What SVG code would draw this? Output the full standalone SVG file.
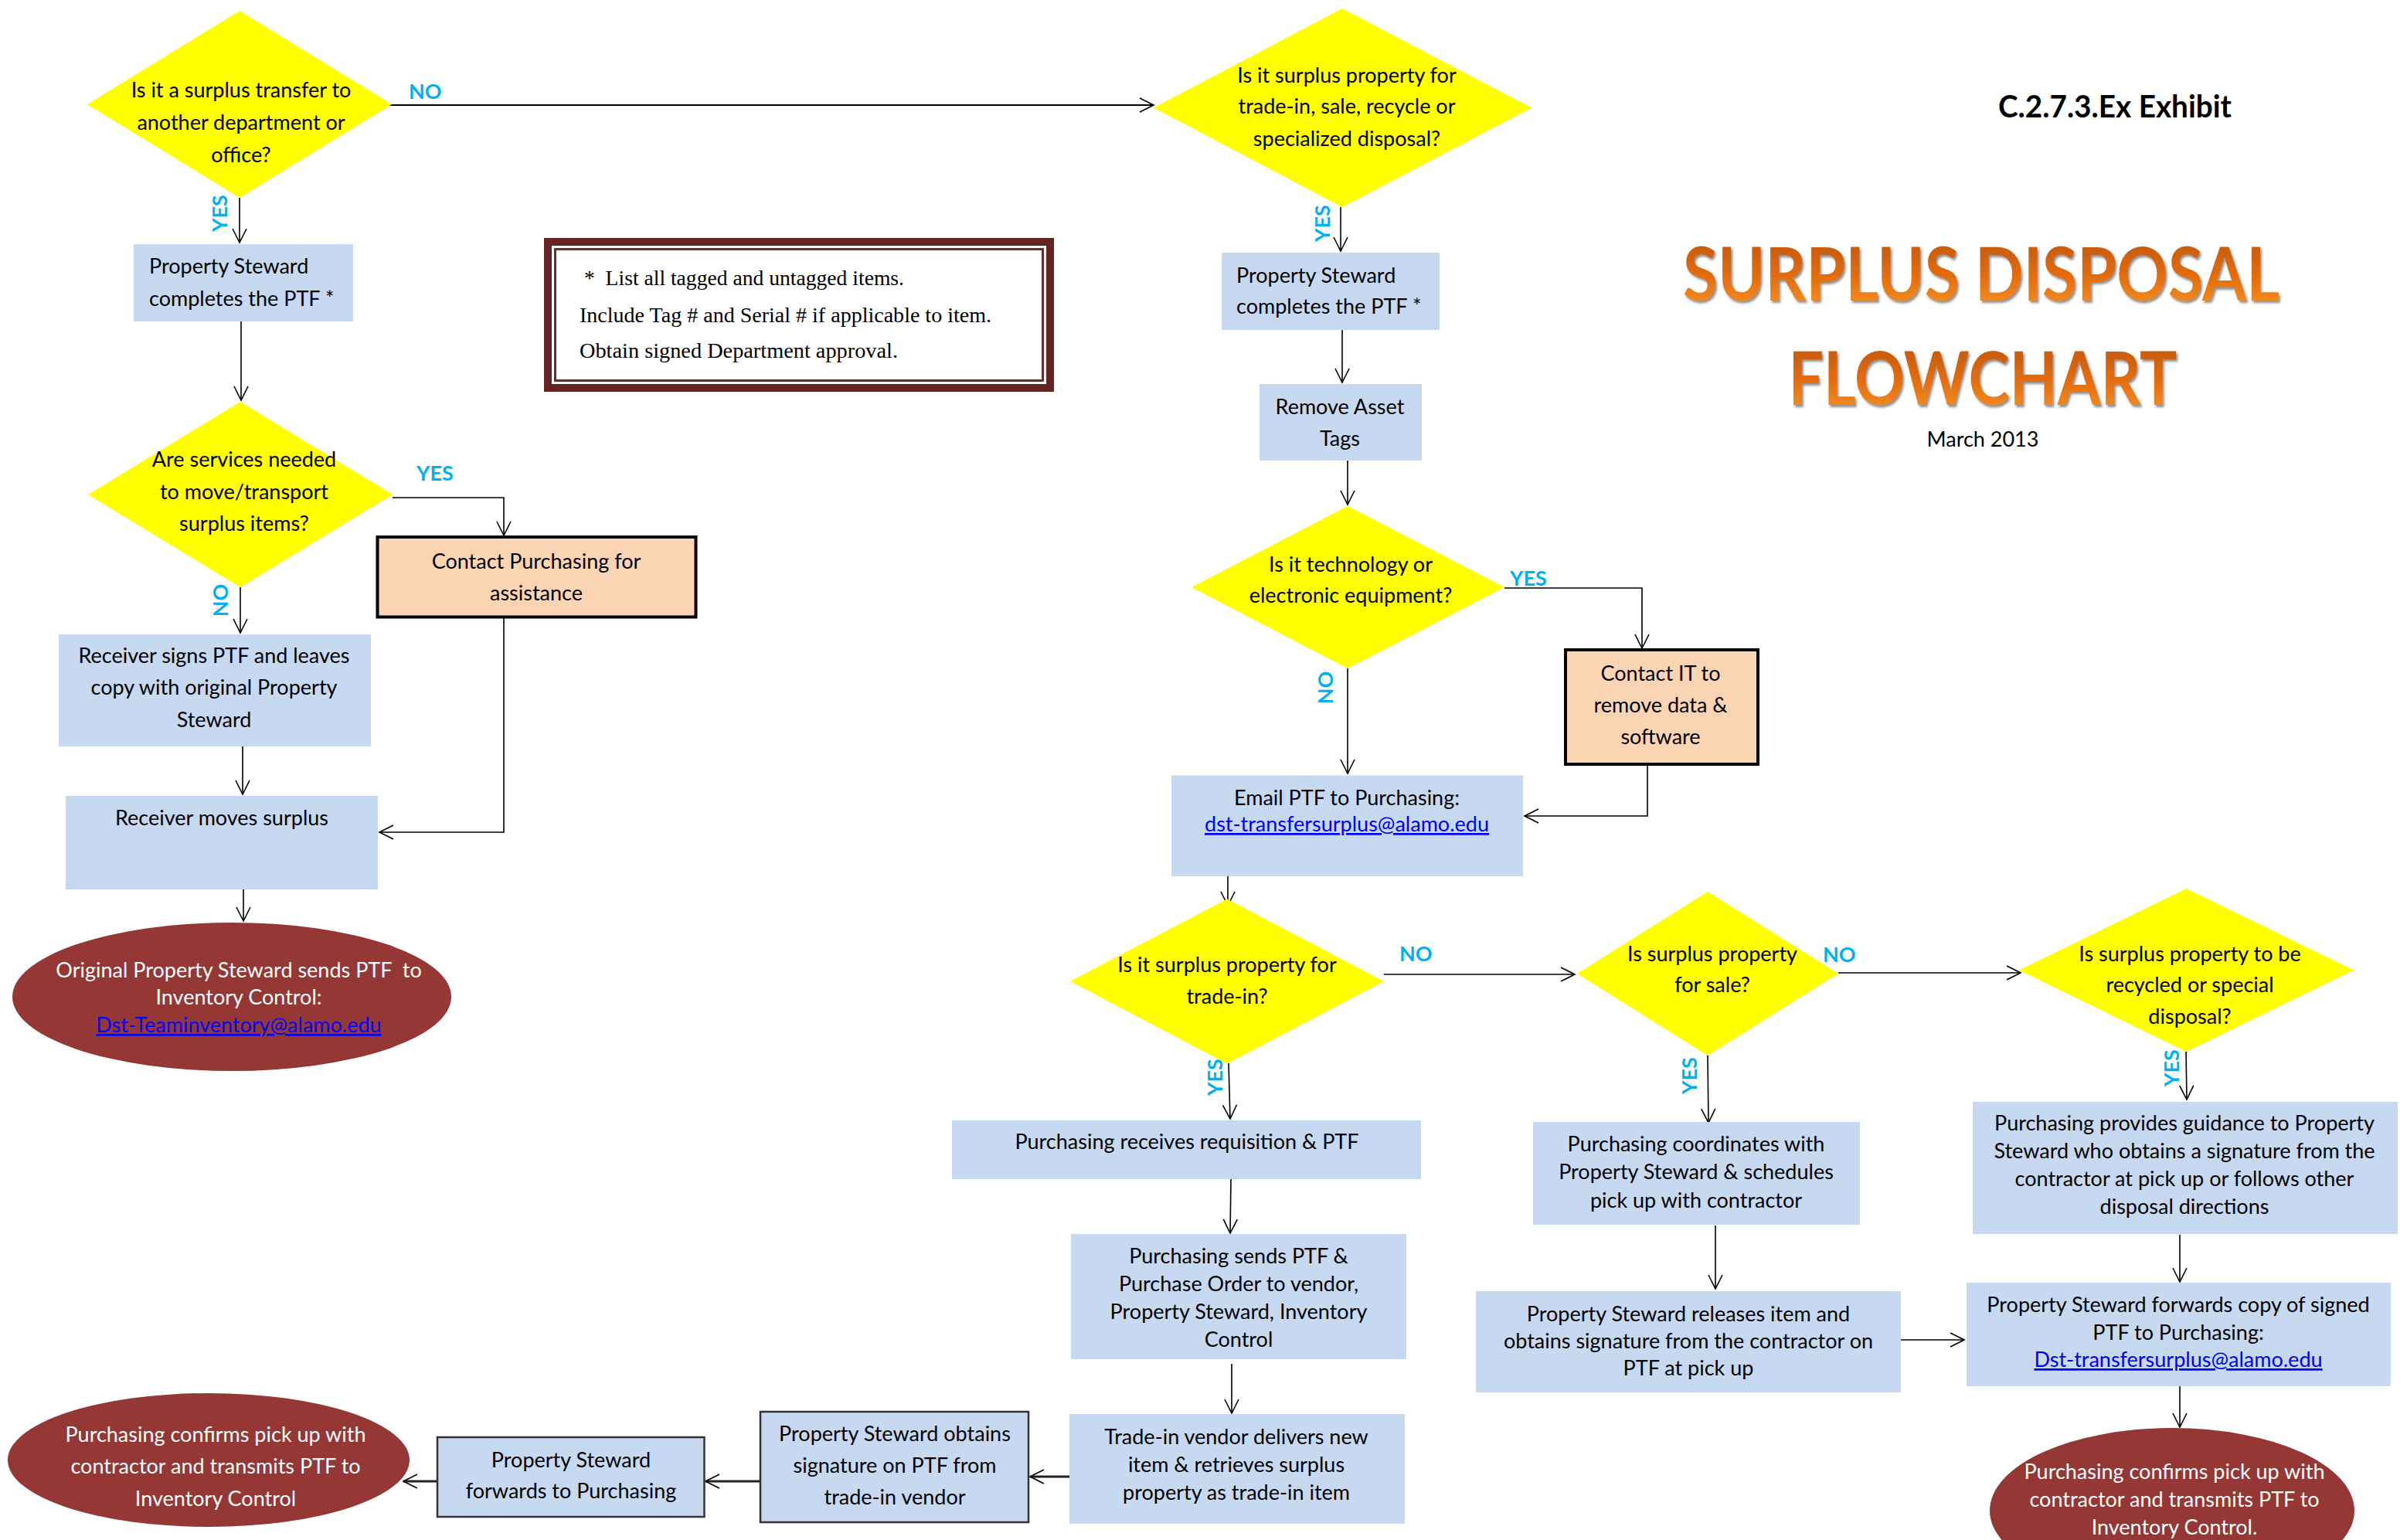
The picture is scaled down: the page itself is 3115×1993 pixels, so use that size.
<svg xmlns="http://www.w3.org/2000/svg" width="3115" height="1993" viewBox="0 0 3115 1993">
<defs>
<style>
.box{fill:#C6D9F1}
.dia{fill:#FFFF00}
.org{fill:#FBD4B4;stroke:#000;stroke-width:4}
.oval{fill:#953735}
.bdr{stroke:#333;stroke-width:2.5}
.t{font-family:Lato,'Liberation Sans',sans-serif;font-size:27px;fill:#000}
.c{text-anchor:middle}
.w{fill:#fff}
.lnk{fill:#0000FF;text-decoration:underline}
.lbl{font-family:Lato,'Liberation Sans',sans-serif;font-size:27px;font-weight:700;fill:#00B0F0}
.cn{fill:none;stroke:#000;stroke-width:1.6;marker-end:url(#arr)}
.cn2{stroke-width:2.2}
.cn3{stroke-width:3.2;stroke:#222}
.note{font-family:'Liberation Serif',serif;font-size:27.5px;fill:#000}
</style>
<marker id="arr" markerUnits="userSpaceOnUse" viewBox="-20 -12 22 24" refX="0" refY="0" markerWidth="22" markerHeight="24" orient="auto">
<path d="M-18,-9 L0,0 L-18,9" fill="none" stroke="#000" stroke-width="1.6"/>
</marker>
<linearGradient id="tg" x1="0" y1="0" x2="0" y2="1">
<stop offset="0" stop-color="#B8520C"/>
<stop offset="0.55" stop-color="#E46C0A"/>
<stop offset="1" stop-color="#F79A2E"/>
</linearGradient>
<filter id="sh" x="-5%" y="-10%" width="110%" height="130%">
<feDropShadow dx="2" dy="3" stdDeviation="1.5" flood-color="#444" flood-opacity="0.6"/>
</filter>
</defs>
<rect width="3115" height="1993" fill="#fff"/>

<g id="connectors">
<path class="cn" d="M310,256 L310,314"/>
<path class="cn cn2" d="M500,136 L1493,136"/>
<path class="cn" d="M312,416 L312,518"/>
<path class="cn" d="M508,644 L652,644 L652,693"/>
<path class="cn" d="M311,760 L311,819"/>
<path class="cn" d="M314,966 L314,1028"/>
<path class="cn" d="M652,798 L652,1077 L491,1077"/>
<path class="cn" d="M315,1151 L315,1192"/>
<path class="cn" d="M1735,268 L1735,325"/>
<path class="cn" d="M1737,427 L1737,495"/>
<path class="cn" d="M1744,596 L1744,653"/>
<path class="cn" d="M1947,761 L2125,761 L2125,839"/>
<path class="cn" d="M1744,865 L1744,1001"/>
<path class="cn" d="M2132,989 L2132,1056 L1973,1056"/>
<path class="cn" d="M1589,1134 L1589,1172"/>
<path class="cn" d="M1791,1261 L2038,1261"/>
<path class="cn" d="M1590,1376 L1592,1448"/>
<path class="cn" d="M1593,1526 L1592,1596"/>
<path class="cn" d="M1594,1765 L1594,1829"/>
<path class="cn cn3" d="M1384,1911 L1333,1911"/>
<path class="cn cn3" d="M984,1917 L913,1917"/>
<path class="cn cn3" d="M566,1917 L522,1917"/>
<path class="cn" d="M2379,1259 L2615,1259"/>
<path class="cn" d="M2210,1366 L2211,1453"/>
<path class="cn" d="M2220,1586 L2220,1668"/>
<path class="cn" d="M2460,1734 L2542,1734"/>
<path class="cn" d="M2829,1361 L2830,1423"/>
<path class="cn" d="M2821,1598 L2821,1659"/>
<path class="cn" d="M2821,1794 L2821,1847"/>
</g>

<g id="labels">
<text class="lbl c" transform="translate(294,276) rotate(-90)">YES</text>
<text class="lbl" x="529" y="128">NO</text>
<text class="lbl c" transform="translate(1721,289) rotate(-90)">YES</text>
<text class="lbl" x="539" y="622">YES</text>
<text class="lbl c" transform="translate(295,777) rotate(-90)">NO</text>
<text class="lbl" x="1954" y="758">YES</text>
<text class="lbl c" transform="translate(1725,890) rotate(-90)">NO</text>
<text class="lbl" x="1811" y="1244">NO</text>
<text class="lbl c" transform="translate(1582,1394) rotate(-90)">YES</text>
<text class="lbl c" transform="translate(2196,1392) rotate(-90)">YES</text>
<text class="lbl" x="2359" y="1245">NO</text>
<text class="lbl c" transform="translate(2820,1382) rotate(-90)">YES</text>
</g>

<g id="d1">
<polygon class="dia" points="310,14 507,135 310,256 113,135"/>
<text class="t c"><tspan x="312" y="126">Is it a surplus transfer to</tspan><tspan x="312" y="168">another department or</tspan><tspan x="312" y="210">office?</tspan></text>
</g>
<g id="b1">
<rect class="box" x="173" y="316" width="284" height="100"/>
<text class="t"><tspan x="193" y="354">Property Steward</tspan><tspan x="193" y="396">completes the PTF *</tspan></text>
</g>
<g id="note">
<rect x="704" y="308" width="660" height="199" fill="#632423"/>
<rect x="714" y="318" width="640" height="179" fill="#fff"/>
<rect x="718.5" y="322.5" width="631" height="170" fill="#fff" stroke="#6f2c2b" stroke-width="3"/>
<text class="note" x="756" y="369" xml:space="preserve" textLength="414" lengthAdjust="spacingAndGlyphs">*  List all tagged and untagged items.</text>
<text class="note" x="750" y="417" textLength="533" lengthAdjust="spacingAndGlyphs">Include Tag # and Serial # if applicable to item.</text>
<text class="note" x="750" y="463" textLength="412" lengthAdjust="spacingAndGlyphs">Obtain signed Department approval.</text>
</g>
<g id="d2">
<polygon class="dia" points="1737,11 1982,139.5 1737,268 1493,139.5"/>
<text class="t c"><tspan x="1743" y="107">Is it surplus property for</tspan><tspan x="1743" y="147">trade-in, sale, recycle or</tspan><tspan x="1743" y="189">specialized disposal?</tspan></text>
</g>
<g id="b2">
<rect class="box" x="1581" y="327" width="282" height="100"/>
<text class="t"><tspan x="1600" y="366">Property Steward</tspan><tspan x="1600" y="406">completes the PTF *</tspan></text>
</g>
<g id="title">
<text x="2737" y="152" text-anchor="middle" textLength="302" lengthAdjust="spacingAndGlyphs" style="font-family:Lato,'Liberation Sans',sans-serif;font-size:40px;font-weight:700;fill:#000">C.2.7.3.Ex Exhibit</text>
<text x="2564" y="389" text-anchor="middle" textLength="772" lengthAdjust="spacingAndGlyphs" filter="url(#sh)" style="font-family:Lato,'Liberation Sans',sans-serif;font-size:95px;font-weight:700;fill:url(#tg)">SURPLUS DISPOSAL</text>
<text x="2566" y="524" text-anchor="middle" textLength="503" lengthAdjust="spacingAndGlyphs" filter="url(#sh)" style="font-family:Lato,'Liberation Sans',sans-serif;font-size:95px;font-weight:700;fill:url(#tg)">FLOWCHART</text>
<text class="t c" x="2566" y="578">March 2013</text>
</g>
<g id="d3">
<polygon class="dia" points="311,520 508,640 311,760 114,640"/>
<text class="t c"><tspan x="316" y="604">Are services needed</tspan><tspan x="316" y="646">to move/transport</tspan><tspan x="316" y="687">surplus items?</tspan></text>
</g>
<g id="o1">
<rect class="org" x="488.5" y="695" width="412" height="103.5"/>
<text class="t c"><tspan x="694" y="736">Contact Purchasing for</tspan><tspan x="694" y="777">assistance</tspan></text>
</g>
<g id="b3">
<rect class="box" x="76" y="821" width="404" height="145"/>
<text class="t c"><tspan x="277" y="858">Receiver signs PTF and leaves</tspan><tspan x="277" y="899">copy with original Property</tspan><tspan x="277" y="941">Steward</tspan></text>
</g>
<g id="b4">
<rect class="box" x="85" y="1030" width="404" height="121"/>
<text class="t c" x="287" y="1068">Receiver moves surplus</text>
</g>
<g id="e1">
<ellipse class="oval" cx="300" cy="1290" rx="284" ry="96"/>
<text class="t c w" xml:space="preserve"><tspan x="309" y="1265">Original Property Steward sends PTF  to</tspan><tspan x="309" y="1300">Inventory Control:</tspan><tspan x="309" y="1336" class="lnk">Dst-Teaminventory@alamo.edu</tspan></text>
</g>
<g id="b5">
<rect class="box" x="1630" y="497" width="210" height="99"/>
<text class="t c"><tspan x="1734" y="536">Remove Asset</tspan><tspan x="1734" y="577">Tags</tspan></text>
</g>
<g id="d4">
<polygon class="dia" points="1744,655 1947,760 1744,865 1542,760"/>
<text class="t c"><tspan x="1748" y="740">Is it technology or</tspan><tspan x="1748" y="780">electronic equipment?</tspan></text>
</g>
<g id="o2">
<rect class="org" x="2026" y="841" width="249" height="148"/>
<text class="t c"><tspan x="2149" y="881">Contact IT to</tspan><tspan x="2149" y="922">remove data &amp;</tspan><tspan x="2149" y="963">software</tspan></text>
</g>
<g id="b6">
<rect class="box" x="1516" y="1003.5" width="455" height="130.5"/>
<text class="t c"><tspan x="1743" y="1042">Email PTF to Purchasing:</tspan><tspan x="1743" y="1076" class="lnk">dst-transfersurplus@alamo.edu</tspan></text>
</g>
<g id="d5">
<polygon class="dia" points="1588,1163.5 1791,1270 1588,1376.5 1385,1270"/>
<text class="t c"><tspan x="1588" y="1258">Is it surplus property for</tspan><tspan x="1588" y="1299">trade-in?</tspan></text>
</g>
<g id="b7">
<rect class="box" x="1232" y="1450" width="607" height="76"/>
<text class="t c" x="1536" y="1487">Purchasing receives requisition &amp; PTF</text>
</g>
<g id="b8">
<rect class="box" x="1386" y="1597" width="434" height="162"/>
<text class="t c"><tspan x="1603" y="1635">Purchasing sends PTF &amp;</tspan><tspan x="1603" y="1671">Purchase Order to vendor,</tspan><tspan x="1603" y="1707">Property Steward, Inventory</tspan><tspan x="1603" y="1743">Control</tspan></text>
</g>
<g id="b9">
<rect class="box" x="1384" y="1830" width="434" height="142"/>
<text class="t c"><tspan x="1600" y="1869">Trade-in vendor delivers new</tspan><tspan x="1600" y="1905">item &amp; retrieves surplus</tspan><tspan x="1600" y="1941">property as trade-in item</tspan></text>
</g>
<g id="b10">
<rect class="box bdr" x="984" y="1827" width="347" height="143"/>
<text class="t c"><tspan x="1158" y="1865">Property Steward obtains</tspan><tspan x="1158" y="1906">signature on PTF from</tspan><tspan x="1158" y="1947">trade-in vendor</tspan></text>
</g>
<g id="b11">
<rect class="box bdr" x="566" y="1860" width="345.5" height="103"/>
<text class="t c"><tspan x="739" y="1899">Property Steward</tspan><tspan x="739" y="1939">forwards to Purchasing</tspan></text>
</g>
<g id="e2">
<ellipse class="oval" cx="270" cy="1889.5" rx="260" ry="86.5"/>
<text class="t c w"><tspan x="279" y="1866">Purchasing confirms pick up with</tspan><tspan x="279" y="1907">contractor and transmits PTF to</tspan><tspan x="279" y="1949">Inventory Control</tspan></text>
</g>
<g id="d6">
<polygon class="dia" points="2210,1154 2379,1260 2210,1366 2041,1260"/>
<text class="t c"><tspan x="2216" y="1244">Is surplus property</tspan><tspan x="2216" y="1284">for sale?</tspan></text>
</g>
<g id="d7">
<polygon class="dia" points="2829.5,1150 3046,1255.5 2829.5,1361 2613,1255.5"/>
<text class="t c"><tspan x="2834" y="1244">Is surplus property to be</tspan><tspan x="2834" y="1284">recycled or special</tspan><tspan x="2834" y="1325">disposal?</tspan></text>
</g>
<g id="b12">
<rect class="box" x="1984" y="1452" width="423" height="133"/>
<text class="t c"><tspan x="2195" y="1490">Purchasing coordinates with</tspan><tspan x="2195" y="1526">Property Steward &amp; schedules</tspan><tspan x="2195" y="1563">pick up with contractor</tspan></text>
</g>
<g id="b13">
<rect class="box" x="1910" y="1671" width="550" height="131"/>
<text class="t c"><tspan x="2185" y="1710">Property Steward releases item and</tspan><tspan x="2185" y="1745">obtains signature from the contractor on</tspan><tspan x="2185" y="1780">PTF at pick up</tspan></text>
</g>
<g id="b14">
<rect class="box" x="2553" y="1426" width="550" height="171"/>
<text class="t c"><tspan x="2827" y="1463">Purchasing provides guidance to Property</tspan><tspan x="2827" y="1499">Steward who obtains a signature from the</tspan><tspan x="2827" y="1535">contractor at pick up or follows other</tspan><tspan x="2827" y="1571">disposal directions</tspan></text>
</g>
<g id="b15">
<rect class="box" x="2545" y="1660" width="549" height="134"/>
<text class="t c"><tspan x="2819" y="1698">Property Steward forwards copy of signed</tspan><tspan x="2819" y="1734">PTF to Purchasing:</tspan><tspan x="2819" y="1769" class="lnk">Dst-transfersurplus@alamo.edu</tspan></text>
</g>
<g id="e3">
<ellipse class="oval" cx="2811" cy="1955" rx="236" ry="107"/>
<text class="t c w"><tspan x="2814" y="1914">Purchasing confirms pick up with</tspan><tspan x="2814" y="1950">contractor and transmits PTF to</tspan><tspan x="2814" y="1986">Inventory Control.</tspan></text>
</g>
</svg>
